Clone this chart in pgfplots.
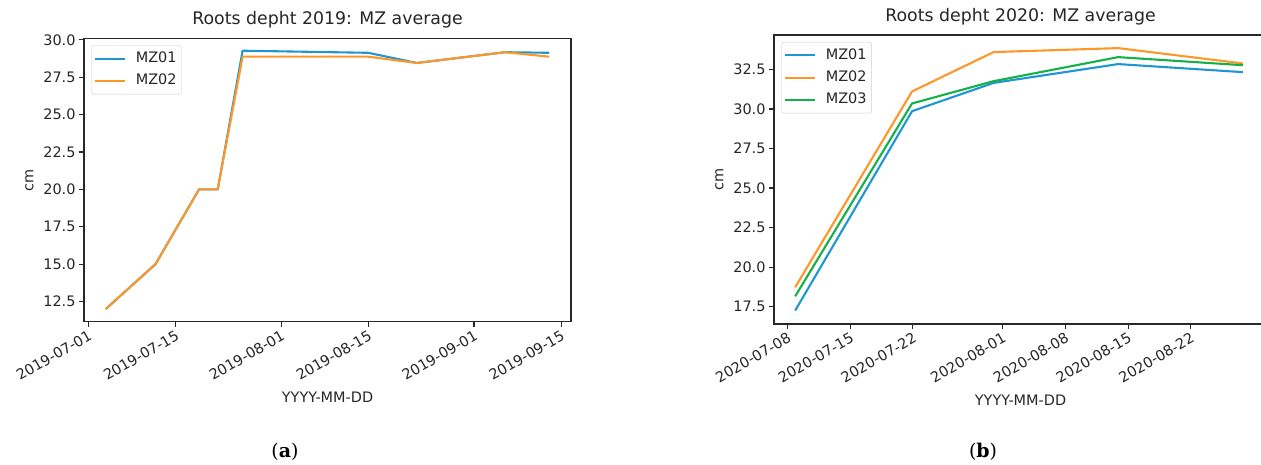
\documentclass[border=0pt]{standalone}
\usepackage{pgfplots}
\pgfplotsset{compat=1.18}
\usepackage{fontspec}
\setmainfont{DejaVu Sans}
\newfontfamily\capfont{DejaVu Serif}
\definecolor{mblue}{RGB}{31,150,210}
\definecolor{morange}{RGB}{255,150,40}
\definecolor{mgreen}{RGB}{20,176,72}
\definecolor{spine}{RGB}{40,40,40}

\pgfplotstableread{
day mza mzb
2.8  12.0  12.0
10.8 15.0  15.0
17.8 20.0  20.0
20.8 20.0  20.0
24.8 29.27 28.87
45.0 29.13 28.87
52.8 28.45 28.45
67.0 29.17 29.17
74.1 29.13 28.87
}\tabA

\pgfplotstableread{
day mza mzb mzc
0.86 17.25 18.72 18.15
13.9 29.86 31.11 30.35
23.0 31.65 33.60 31.76
36.9 32.84 33.85 33.28
50.8 32.33 32.88 32.77
}\tabB

\pgfplotsset{
  mplstyle/.style={
    scale only axis,
    axis line style={spine, line width=1.1bp},
    tick style={spine, line width=1.1bp},
    tick align=outside,
    xtick pos=left, ytick pos=left,
    major tick length=5bp,
    minor tick num=0,
    tick label style={font=\fontsize{14.5}{17}\selectfont, color=black!85},
    label style={font=\fontsize{14.5}{17}\selectfont, color=black!85},
    xlabel style={yshift=-5bp},
    ylabel style={yshift=3bp},
    title style={font=\fontsize{17.4}{20}\selectfont, color=black!85, anchor=base, yshift=7.5bp},
    /pgf/number format/assume math mode=true,
    yticklabel={\pgfmathprintnumber[fixed,fixed zerofill,precision=1]{\tick}},
    xticklabel style={rotate=30, anchor=north east, inner sep=2bp},
    legend style={at={(0,1)}, anchor=north west, xshift=7.5bp, yshift=-7bp,
      draw=black!20, rounded corners=2bp, fill=white,
      font=\fontsize{14.5}{17}\selectfont, text=black!85,
      inner xsep=2bp, inner ysep=2bp, row sep=0pt,
      nodes={inner xsep=3bp, inner ysep=4.4bp, text height=10.5bp, text depth=3bp},
      /tikz/every odd column/.append style={column sep=7bp}},
    legend cell align=left,
    legend image code/.code={\draw[#1, line width=2.1bp] (0bp,0bp) -- (30bp,0bp);},
    every axis plot/.append style={line width=2.1bp, line join=round, mark=none},
    ylabel=cm, xlabel={YYYY-MM-DD},
  }
}

\begin{document}
\begin{tikzpicture}
\useasboundingbox (0,0) rectangle (1261bp,465bp);
\clip (0,0) rectangle (1261bp,465bp);

\begin{axis}[mplstyle,
  at={(84bp,143.3bp)}, anchor=south west,
  width=487bp, height=283.4bp,
  xmin=-0.7, xmax=77.6, ymin=11.15, ymax=30.1,
  xtick={0,14,31,45,62,76},
  xticklabels={2019-07-01,2019-07-15,2019-08-01,2019-08-15,2019-09-01,2019-09-15},
  ytick={12.5,15,17.5,20,22.5,25,27.5,30},
  title={Roots depht 2019: MZ average},
]
\addplot[mblue] table[x=day,y=mza]{\tabA};
\addlegendentry{MZ01}
\addplot[morange] table[x=day,y=mzb]{\tabA};
\addlegendentry{MZ02}
\end{axis}

\begin{axis}[mplstyle,
  at={(774bp,141bp)}, anchor=south west,
  width=493bp, height=289bp,
  xmin=-1.5, xmax=53.5, ymin=16.4, ymax=34.68,
  xtick={0,7,14,24,31,38,45},
  xticklabels={2020-07-08,2020-07-15,2020-07-22,2020-08-01,2020-08-08,2020-08-15,2020-08-22},
  ytick={17.5,20,22.5,25,27.5,30,32.5},
  title={Roots depht 2020: MZ average},
]
\addplot[mblue] table[x=day,y=mza]{\tabB};
\addlegendentry{MZ01}
\addplot[morange] table[x=day,y=mzb]{\tabB};
\addlegendentry{MZ02}
\addplot[mgreen] table[x=day,y=mzc]{\tabB};
\addlegendentry{MZ03}
\end{axis}

\node[font=\capfont\fontsize{19}{22}\selectfont] at (285bp,13bp) {(\textbf{a})};
\node[font=\capfont\fontsize{19}{22}\selectfont] at (983bp,13bp) {(\textbf{b})};
\end{tikzpicture}
\end{document}
